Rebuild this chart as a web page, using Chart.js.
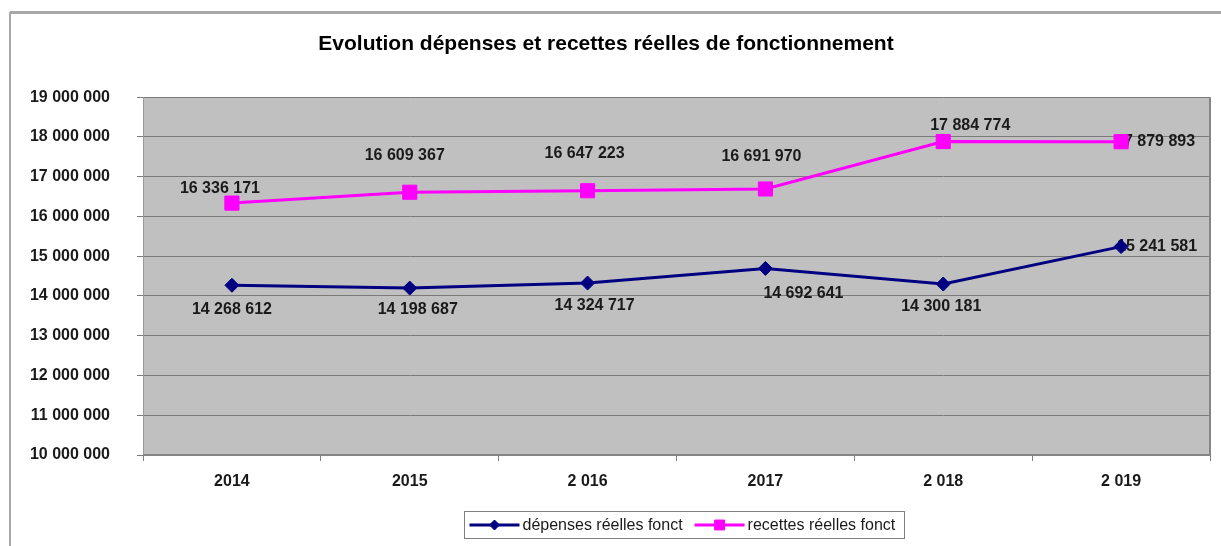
<!DOCTYPE html>
<html lang="fr">
<head>
<meta charset="utf-8">
<title>Evolution dépenses et recettes réelles de fonctionnement</title>
<script src="https://cdn.jsdelivr.net/npm/chart.js@4.4.1/dist/chart.umd.min.js"></script>
<style>
    html, body { margin: 0; padding: 0; background: #ffffff; }
    #wrap { position: relative; width: 1221px; height: 546px; }
</style>
</head>
<body>
<div id="wrap"><canvas id="evolutionChart" width="1221" height="546"></canvas></div>
<script>
// Data
const years = ['2014', '2015', '2 016', '2017', '2 018', '2 019'];
const depensesReelles = [14268612, 14198687, 14324717, 14692641, 14300181, 15241581];
const recettesReelles = [16336171, 16609367, 16647223, 16691970, 17884774, 17879893];
const depensesLabel = 'dépenses réelles fonct';
const recettesLabel = 'recettes réelles fonct';
const chartTitle = 'Evolution dépenses et recettes réelles de fonctionnement';
const yMin = 10000000;
const yMax = 19000000;
const yStep = 1000000;

// Where each value label sits relative to its point (dx, dy in px, align)
const depensesLabelPlacement = [
    { dx: 0, dy: 24, align: 'center' },
    { dx: 8, dy: 22, align: 'center' },
    { dx: 7, dy: 23, align: 'center' },
    { dx: 38, dy: 25, align: 'center' },
    { dx: -2, dy: 23, align: 'center' },
    { dx: -4, dy: 0, align: 'left' }
];
const recettesLabelPlacement = [
    { dx: -12, dy: -15, align: 'center' },
    { dx: -5, dy: -37, align: 'center' },
    { dx: -3, dy: -37, align: 'center' },
    { dx: -4, dy: -32, align: 'center' },
    { dx: 27, dy: -16, align: 'center' },
    { dx: -6, dy: 0, align: 'left' }
];

const FONT = '"Liberation Sans", Arial, sans-serif';
const TEXT = '#1a1a1a';
const NAVY = '#000080';
const MAGENTA = '#ff00ff';

// French style thousands: 19 000 000
function formatFr(value) {
    return Math.round(value).toString().replace(/\B(?=(\d{3})+(?!\d))/g, ' ');
}

// Outer frame + grey plot background
const backgroundPlugin = {
    id: 'excelBackground',
    beforeDraw(chart) {
        const ctx = chart.ctx;
        const a = chart.chartArea;
        ctx.save();
        ctx.fillStyle = '#ffffff';
        ctx.fillRect(0, 0, chart.width, chart.height);

        // frame lines (top and left, the rest is outside the picture)
        ctx.strokeStyle = '#a8a8a8';
        ctx.lineWidth = 3;
        ctx.beginPath();
        ctx.moveTo(10, 12.5);
        ctx.lineTo(chart.width, 12.5);
        ctx.stroke();
        ctx.lineWidth = 2;
        ctx.beginPath();
        ctx.moveTo(10, 12);
        ctx.lineTo(10, chart.height);
        ctx.stroke();

        ctx.fillStyle = '#c0c0c0';
        ctx.fillRect(a.left, a.top, a.right - a.left, a.bottom - a.top);
        ctx.restore();
    },
    afterDraw(chart) {
        // darker right / bottom edge of the plot area
        const ctx = chart.ctx;
        const a = chart.chartArea;
        ctx.save();
        ctx.strokeStyle = '#858585';
        ctx.lineWidth = 2;
        ctx.beginPath();
        ctx.moveTo(a.right, a.top);
        ctx.lineTo(a.right, a.bottom);
        ctx.lineTo(a.left, a.bottom);
        ctx.stroke();
        ctx.restore();
    }
};

// Value labels, drawn under the markers like in the original
const valueLabelPlugin = {
    id: 'valueLabels',
    beforeDatasetsDraw(chart) {
        const ctx = chart.ctx;
        const placements = [depensesLabelPlacement, recettesLabelPlacement];
        ctx.save();
        ctx.font = 'bold 16px ' + FONT;
        ctx.fillStyle = TEXT;
        ctx.textBaseline = 'middle';
        chart.data.datasets.forEach((ds, di) => {
            const meta = chart.getDatasetMeta(di);
            meta.data.forEach((pt, i) => {
                const p = placements[di][i];
                ctx.textAlign = p.align;
                ctx.fillText(formatFr(ds.data[i]), pt.x + p.dx, pt.y + p.dy);
            });
        });
        ctx.restore();
    }
};

// Excel style legend: boxed, line with marker then text
const boxedLegendPlugin = {
    id: 'boxedLegend',
    afterDraw(chart) {
        const ctx = chart.ctx;
        const datasets = chart.data.datasets;
        const lineLen = 50;
        const gap = 3;
        const itemGap = 12;
        const centerX = 684;
        const centerY = 525;
        ctx.save();
        ctx.font = '16px ' + FONT;
        const widths = datasets.map(ds => ctx.measureText(ds.label).width);
        let total = 0;
        widths.forEach((w, i) => { total += lineLen + gap + w + (i ? itemGap : 0); });
        const boxW = Math.round(total + 14);
        const boxLeft = Math.round(centerX - boxW / 2) + 0.5;
        ctx.strokeStyle = '#7f7f7f';
        ctx.lineWidth = 1;
        ctx.strokeRect(boxLeft, 511.5, boxW, 27);

        let x = boxLeft + 5;
        datasets.forEach((ds, i) => {
            if (i) x += itemGap;
            ctx.strokeStyle = ds.borderColor;
            ctx.fillStyle = ds.backgroundColor;
            ctx.lineWidth = 3;
            ctx.beginPath();
            ctx.moveTo(x, centerY);
            ctx.lineTo(x + lineLen, centerY);
            ctx.stroke();
            ctx.lineWidth = 1;
            Chart.helpers.drawPoint(ctx, {
                pointStyle: ds.pointStyle,
                radius: ds.pointStyle === 'rect' ? 7 : 5,
                borderWidth: 1
            }, x + lineLen / 2, centerY);
            ctx.fillStyle = TEXT;
            ctx.textAlign = 'left';
            ctx.textBaseline = 'middle';
            ctx.fillText(ds.label, x + lineLen + gap, centerY + 1);
            x += lineLen + gap + widths[i];
        });
        ctx.restore();
    }
};

const ctx = document.getElementById('evolutionChart').getContext('2d');
window.evolutionChart = new Chart(ctx, {
    type: 'line',
    data: {
        labels: years,
        datasets: [
            {
                label: depensesLabel,
                data: depensesReelles,
                borderColor: NAVY,
                backgroundColor: NAVY,
                pointBackgroundColor: NAVY,
                pointBorderColor: NAVY,
                borderWidth: 3,
                pointStyle: 'rectRot',
                pointRadius: 7,
                pointBorderWidth: 1,
                tension: 0
            },
            {
                label: recettesLabel,
                data: recettesReelles,
                borderColor: MAGENTA,
                backgroundColor: MAGENTA,
                pointBackgroundColor: MAGENTA,
                pointBorderColor: MAGENTA,
                borderWidth: 3,
                pointStyle: 'rect',
                pointRadius: 10,
                pointBorderWidth: 1,
                tension: 0
            }
        ]
    },
    options: {
        responsive: false,
        animation: false,
        events: [],
        layout: { padding: { left: 0, right: 9, top: 0, bottom: 51 } },
        plugins: {
            legend: { display: false },
            tooltip: { enabled: false },
            title: {
                display: true,
                text: chartTitle,
                color: '#000000',
                font: { family: FONT, size: 21, weight: 'bold' },
                padding: { top: 32, bottom: 40 }
            }
        },
        scales: {
            x: {
                offset: true,
                grid: {
                    offset: true,
                    drawOnChartArea: false,
                    drawTicks: true,
                    tickLength: 6,
                    color: '#808080'
                },
                border: { display: false },
                ticks: {
                    color: TEXT,
                    font: { family: FONT, size: 16, weight: 'bold' },
                    padding: 11,
                    maxRotation: 0
                },
                afterFit(scale) { scale.height = 40; }
            },
            y: {
                min: yMin,
                max: yMax,
                grid: {
                    color: '#7a7a7a',
                    lineWidth: 1,
                    tickLength: 6,
                    drawTicks: true
                },
                border: { display: true, color: '#9a9a9a', width: 1 },
                ticks: {
                    stepSize: yStep,
                    color: TEXT,
                    font: { family: FONT, size: 16, weight: 'bold' },
                    padding: 27,
                    callback: value => formatFr(value)
                },
                afterFit(scale) { scale.width = 143; }
            }
        }
    },
    plugins: [backgroundPlugin, valueLabelPlugin, boxedLegendPlugin]
});

console.log('chart ready', window.evolutionChart.chartArea);
</script>
</body>
</html>
